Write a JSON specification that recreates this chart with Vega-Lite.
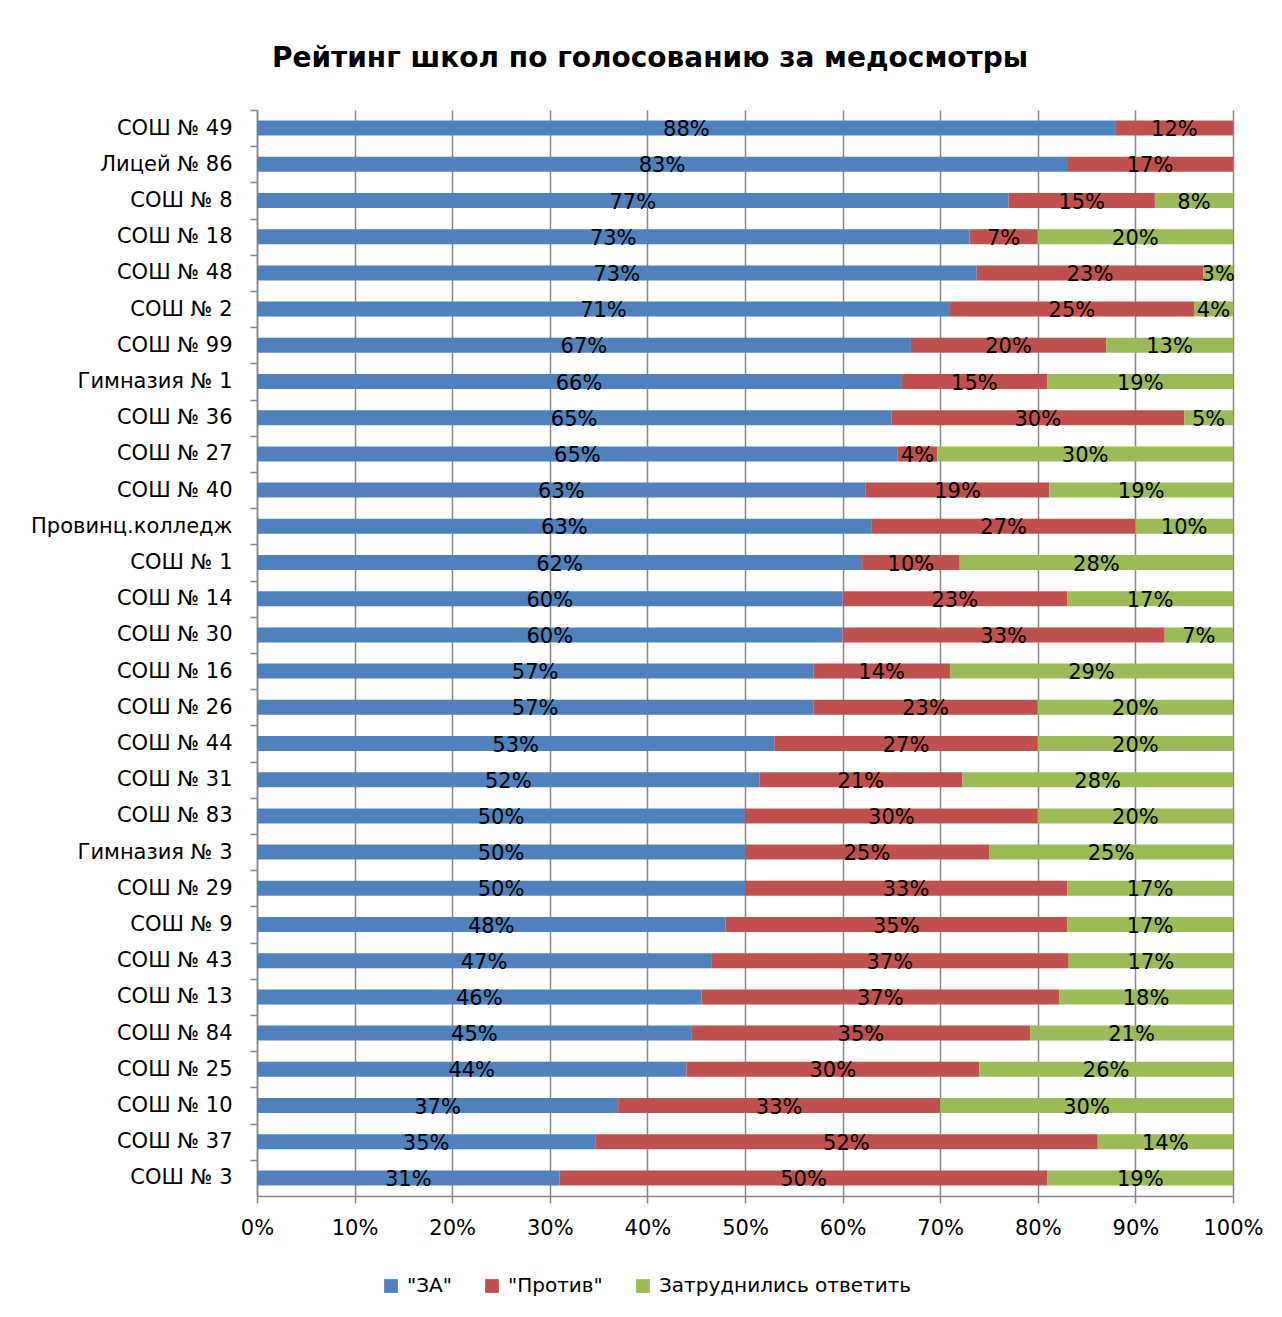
{
  "$schema": "https://vega.github.io/schema/vega-lite/v6.json",
  "autosize": {"type": "none"},
  "padding": {"left": 257, "top": 110, "right": 49, "bottom": 121},
  "width": 976,
  "height": 1086,
  "background": "white",
  "title": {"text": "Рейтинг школ по голосованию за медосмотры", "font": "DejaVu Sans", "fontSize": 28, "fontWeight": "bold", "color": "#000000", "anchor": "middle", "dx": -95, "offset": 36},
  "config": {"view": {"stroke": null}, "font": "DejaVu Sans"},
  "data": {"values": [
    {"school": "СОШ № 49", "cat": "\"ЗА\"", "p": 0.88}, {"school": "СОШ № 49", "cat": "\"Против\"", "p": 0.12},
    {"school": "Лицей № 86", "cat": "\"ЗА\"", "p": 0.83}, {"school": "Лицей № 86", "cat": "\"Против\"", "p": 0.17},
    {"school": "СОШ № 8", "cat": "\"ЗА\"", "p": 0.77}, {"school": "СОШ № 8", "cat": "\"Против\"", "p": 0.15}, {"school": "СОШ № 8", "cat": "Затруднились ответить", "p": 0.08},
    {"school": "СОШ № 18", "cat": "\"ЗА\"", "p": 0.73}, {"school": "СОШ № 18", "cat": "\"Против\"", "p": 0.07}, {"school": "СОШ № 18", "cat": "Затруднились ответить", "p": 0.20},
    {"school": "СОШ № 48", "cat": "\"ЗА\"", "p": 0.73}, {"school": "СОШ № 48", "cat": "\"Против\"", "p": 0.23}, {"school": "СОШ № 48", "cat": "Затруднились ответить", "p": 0.03},
    {"school": "СОШ № 2", "cat": "\"ЗА\"", "p": 0.71}, {"school": "СОШ № 2", "cat": "\"Против\"", "p": 0.25}, {"school": "СОШ № 2", "cat": "Затруднились ответить", "p": 0.04},
    {"school": "СОШ № 99", "cat": "\"ЗА\"", "p": 0.67}, {"school": "СОШ № 99", "cat": "\"Против\"", "p": 0.20}, {"school": "СОШ № 99", "cat": "Затруднились ответить", "p": 0.13},
    {"school": "Гимназия № 1", "cat": "\"ЗА\"", "p": 0.66}, {"school": "Гимназия № 1", "cat": "\"Против\"", "p": 0.15}, {"school": "Гимназия № 1", "cat": "Затруднились ответить", "p": 0.19},
    {"school": "СОШ № 36", "cat": "\"ЗА\"", "p": 0.65}, {"school": "СОШ № 36", "cat": "\"Против\"", "p": 0.30}, {"school": "СОШ № 36", "cat": "Затруднились ответить", "p": 0.05},
    {"school": "СОШ № 27", "cat": "\"ЗА\"", "p": 0.65}, {"school": "СОШ № 27", "cat": "\"Против\"", "p": 0.04}, {"school": "СОШ № 27", "cat": "Затруднились ответить", "p": 0.30},
    {"school": "СОШ № 40", "cat": "\"ЗА\"", "p": 0.63}, {"school": "СОШ № 40", "cat": "\"Против\"", "p": 0.19}, {"school": "СОШ № 40", "cat": "Затруднились ответить", "p": 0.19},
    {"school": "Провинц.колледж", "cat": "\"ЗА\"", "p": 0.63}, {"school": "Провинц.колледж", "cat": "\"Против\"", "p": 0.27}, {"school": "Провинц.колледж", "cat": "Затруднились ответить", "p": 0.10},
    {"school": "СОШ № 1", "cat": "\"ЗА\"", "p": 0.62}, {"school": "СОШ № 1", "cat": "\"Против\"", "p": 0.10}, {"school": "СОШ № 1", "cat": "Затруднились ответить", "p": 0.28},
    {"school": "СОШ № 14", "cat": "\"ЗА\"", "p": 0.60}, {"school": "СОШ № 14", "cat": "\"Против\"", "p": 0.23}, {"school": "СОШ № 14", "cat": "Затруднились ответить", "p": 0.17},
    {"school": "СОШ № 30", "cat": "\"ЗА\"", "p": 0.60}, {"school": "СОШ № 30", "cat": "\"Против\"", "p": 0.33}, {"school": "СОШ № 30", "cat": "Затруднились ответить", "p": 0.07},
    {"school": "СОШ № 16", "cat": "\"ЗА\"", "p": 0.57}, {"school": "СОШ № 16", "cat": "\"Против\"", "p": 0.14}, {"school": "СОШ № 16", "cat": "Затруднились ответить", "p": 0.29},
    {"school": "СОШ № 26", "cat": "\"ЗА\"", "p": 0.57}, {"school": "СОШ № 26", "cat": "\"Против\"", "p": 0.23}, {"school": "СОШ № 26", "cat": "Затруднились ответить", "p": 0.20},
    {"school": "СОШ № 44", "cat": "\"ЗА\"", "p": 0.53}, {"school": "СОШ № 44", "cat": "\"Против\"", "p": 0.27}, {"school": "СОШ № 44", "cat": "Затруднились ответить", "p": 0.20},
    {"school": "СОШ № 31", "cat": "\"ЗА\"", "p": 0.52}, {"school": "СОШ № 31", "cat": "\"Против\"", "p": 0.21}, {"school": "СОШ № 31", "cat": "Затруднились ответить", "p": 0.28},
    {"school": "СОШ № 83", "cat": "\"ЗА\"", "p": 0.50}, {"school": "СОШ № 83", "cat": "\"Против\"", "p": 0.30}, {"school": "СОШ № 83", "cat": "Затруднились ответить", "p": 0.20},
    {"school": "Гимназия № 3", "cat": "\"ЗА\"", "p": 0.50}, {"school": "Гимназия № 3", "cat": "\"Против\"", "p": 0.25}, {"school": "Гимназия № 3", "cat": "Затруднились ответить", "p": 0.25},
    {"school": "СОШ № 29", "cat": "\"ЗА\"", "p": 0.50}, {"school": "СОШ № 29", "cat": "\"Против\"", "p": 0.33}, {"school": "СОШ № 29", "cat": "Затруднились ответить", "p": 0.17},
    {"school": "СОШ № 9", "cat": "\"ЗА\"", "p": 0.48}, {"school": "СОШ № 9", "cat": "\"Против\"", "p": 0.35}, {"school": "СОШ № 9", "cat": "Затруднились ответить", "p": 0.17},
    {"school": "СОШ № 43", "cat": "\"ЗА\"", "p": 0.47}, {"school": "СОШ № 43", "cat": "\"Против\"", "p": 0.37}, {"school": "СОШ № 43", "cat": "Затруднились ответить", "p": 0.17},
    {"school": "СОШ № 13", "cat": "\"ЗА\"", "p": 0.46}, {"school": "СОШ № 13", "cat": "\"Против\"", "p": 0.37}, {"school": "СОШ № 13", "cat": "Затруднились ответить", "p": 0.18},
    {"school": "СОШ № 84", "cat": "\"ЗА\"", "p": 0.45}, {"school": "СОШ № 84", "cat": "\"Против\"", "p": 0.35}, {"school": "СОШ № 84", "cat": "Затруднились ответить", "p": 0.21},
    {"school": "СОШ № 25", "cat": "\"ЗА\"", "p": 0.44}, {"school": "СОШ № 25", "cat": "\"Против\"", "p": 0.30}, {"school": "СОШ № 25", "cat": "Затруднились ответить", "p": 0.26},
    {"school": "СОШ № 10", "cat": "\"ЗА\"", "p": 0.37}, {"school": "СОШ № 10", "cat": "\"Против\"", "p": 0.33}, {"school": "СОШ № 10", "cat": "Затруднились ответить", "p": 0.30},
    {"school": "СОШ № 37", "cat": "\"ЗА\"", "p": 0.35}, {"school": "СОШ № 37", "cat": "\"Против\"", "p": 0.52}, {"school": "СОШ № 37", "cat": "Затруднились ответить", "p": 0.14},
    {"school": "СОШ № 3", "cat": "\"ЗА\"", "p": 0.31}, {"school": "СОШ № 3", "cat": "\"Против\"", "p": 0.50}, {"school": "СОШ № 3", "cat": "Затруднились ответить", "p": 0.19}
  ]},
  "encoding": {
    "y": {
      "field": "school", "type": "nominal", "sort": null, "title": null,
      "scale": {"paddingInner": 0.585, "paddingOuter": 0.2925},
      "axis": {
        "domainColor": "#868686", "domainWidth": 1.5,
        "tickColor": "#868686", "tickWidth": 1.5, "tickSize": 7,
        "tickOffset": -18.1, "labelOffset": 18.1, "labelLimit": 0,
        "labelFont": "DejaVu Sans", "labelFontSize": 21, "labelColor": "#000000", "labelPadding": 18
      }
    }
  },
  "layer": [
    {
      "mark": {"type": "bar"},
      "encoding": {
        "x": {
          "field": "p", "type": "quantitative", "stack": "normalize", "title": null,
          "scale": {"domain": [0, 1], "nice": false},
          "axis": {
            "values": [0, 0.1, 0.2, 0.3, 0.4, 0.5, 0.6, 0.7, 0.8, 0.9, 1], "format": ".0%",
            "grid": true, "gridColor": "#868686", "gridWidth": 1.5, "gridOpacity": 1,
            "domainColor": "#868686", "domainWidth": 1.5,
            "tickColor": "#868686", "tickWidth": 1.5, "tickSize": 7,
            "labelFont": "DejaVu Sans", "labelFontSize": 21, "labelColor": "#000000", "labelPadding": 14, "labelFlush": false
          }
        },
        "color": {
          "field": "cat", "type": "nominal",
          "scale": {"domain": ["\"ЗА\"", "\"Против\"", "Затруднились ответить"], "range": ["#4F81BD", "#C0504D", "#9BBB59"]},
          "legend": {
            "title": null, "orient": "none", "direction": "horizontal", "legendX": 124, "legendY": 1166,
            "symbolType": "square", "symbolSize": 190, "symbolStrokeWidth": 0, "symbolOpacity": 1, "labelLimit": 0,
            "labelFont": "DejaVu Sans", "labelFontSize": 20, "labelColor": "#000000", "columnPadding": 30, "labelOffset": 6
          }
        },
        "order": {"field": "cat", "sort": "ascending"}
      }
    },
    {
      "mark": {"type": "text", "font": "DejaVu Sans", "fontSize": 21, "color": "#000000", "baseline": "middle", "dy": 2},
      "encoding": {
        "x": {"field": "p", "type": "quantitative", "stack": "normalize", "bandPosition": 0.5},
        "detail": {"field": "cat"},
        "order": {"field": "cat", "sort": "ascending"},
        "text": {"field": "p", "format": ".0%"}
      }
    }
  ]
}
